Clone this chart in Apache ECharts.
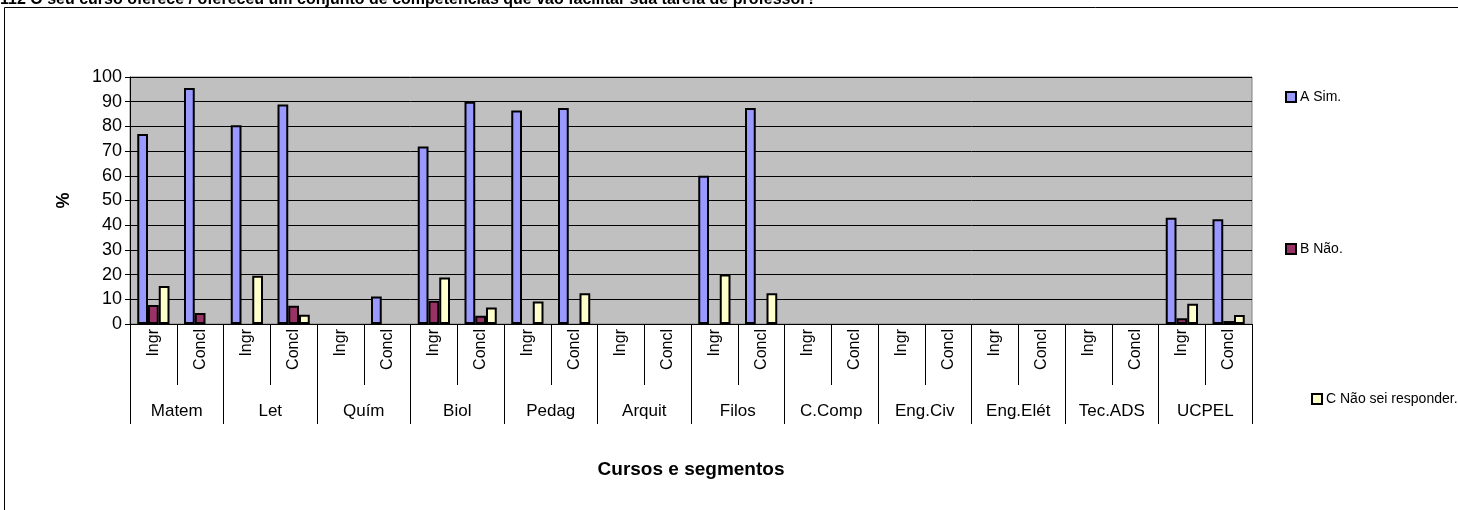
<!DOCTYPE html>
<html>
<head>
<meta charset="utf-8">
<script src="https://cdn.jsdelivr.net/npm/echarts@6/dist/echarts.min.js"></script>
<style>
  html, body { margin: 0; padding: 0; background: #fff; }
  #chart { width: 1458px; height: 510px; }
</style>
</head>
<body>
<div id="chart"></div>
<script>
// segment labels (one per bar group) and course labels (two segments each)
var segments = ['Ingr', 'Concl', 'Ingr', 'Concl', 'Ingr', 'Concl', 'Ingr', 'Concl',
                'Ingr', 'Concl', 'Ingr', 'Concl', 'Ingr', 'Concl', 'Ingr', 'Concl',
                'Ingr', 'Concl', 'Ingr', 'Concl', 'Ingr', 'Concl', 'Ingr', 'Concl'];
var courses = ['Matem', 'Let', 'Quím', 'Biol', 'Pedag', 'Arquit', 'Filos',
               'C.Comp', 'Eng.Civ', 'Eng.Elét', 'Tec.ADS', 'UCPEL'];

// % per answer (null = no bar drawn)
var simValues = [76.9, 95.5, 80.5, 88.9, null, 11.1, 71.9, 90.0, 86.4, 87.5, null, null,
                 60.0, 87.5, null, null, null, null, null, null, null, null, 43.0, 42.4];
var naoValues = [7.7, 4.5, null, 7.4, null, null, 9.4, 3.3, null, null, null, null,
                 null, null, null, null, null, null, null, null, null, null, 2.3, 1.2];
var naoSeiValues = [15.4, null, 19.5, 3.7, null, null, 18.8, 6.7, 9.1, 12.5, null, null,
                    20.0, 12.5, null, null, null, null, null, null, null, null, 8.2, 3.6];

var yTicks = { min: 0, max: 100, interval: 10 };

var titleText = '112 O seu curso oferece / ofereceu um conjunto de competências que vão facilitar sua tarefa de professor?';

var chart = echarts.init(document.getElementById('chart'), null, { renderer: 'canvas' });

var font = 'Arial, "Liberation Sans", sans-serif';

function legendAt(name, left, top) {
    return {
        data: [name],
        left: left,
        top: top,
        padding: 0,
        orient: 'vertical',
        icon: 'rect',
        itemWidth: 10,
        itemHeight: 10,
        itemGap: 0,
        selectedMode: false,
        textStyle: { fontFamily: font, fontSize: 14, color: '#000', padding: [0, 0, 0, -1] }
    };
}

function barSeries(name, color, data) {
    return {
        name: name,
        type: 'bar',
        xAxisIndex: 0,
        yAxisIndex: 0,
        barGap: '0%',
        barCategoryGap: '31%',
        itemStyle: { color: color, borderColor: '#000', borderWidth: 2 },
        emphasis: { disabled: true },
        data: data
    };
}

var option = {
    animation: false,
    backgroundColor: '#fff',
    graphic: [
        {
            type: 'rect',
            shape: { x: 4.5, y: 7.5, width: 1500, height: 600 },
            style: { fill: 'none', stroke: '#000', lineWidth: 1 },
            silent: true
        },
        {
            type: 'text',
            left: 0,
            top: -8,
            style: { text: titleText, font: 'bold 16px ' + font, fill: '#000' },
            silent: true
        }
    ],
    legend: [
        legendAt('A Sim.', 1285, 90),
        legendAt('B Não.', 1285, 242),
        legendAt('C Não sei responder.', 1311, 392)
    ],
    grid: {
        left: 130,
        right: 206,
        top: 77,
        bottom: 186,
        show: true,
        backgroundColor: '#c0c0c0',
        borderColor: '#808080',
        borderWidth: 1
    },
    xAxis: [
        {
            type: 'category',
            data: segments,
            position: 'bottom',
            name: 'Cursos e segmentos',
            nameLocation: 'middle',
            nameGap: 136,
            nameTextStyle: { fontFamily: font, fontSize: 19, fontWeight: 'bold', color: '#000' },
            axisLine: { lineStyle: { color: '#000', width: 1 } },
            axisTick: { show: true, interval: 0, length: 61, lineStyle: { color: '#000' } },
            axisLabel: { interval: 0, rotate: 90, margin: 5, fontFamily: font, fontSize: 16, color: '#000' },
            splitLine: { show: false }
        },
        {
            type: 'category',
            data: courses,
            position: 'bottom',
            axisLine: { show: false },
            axisTick: { show: true, interval: 0, length: 100, lineStyle: { color: '#000' } },
            axisLabel: { interval: 0, margin: 79, fontFamily: font, fontSize: 17, color: '#000' },
            splitLine: { show: false }
        }
    ],
    yAxis: {
        type: 'value',
        min: yTicks.min,
        max: yTicks.max,
        interval: yTicks.interval,
        name: '%',
        nameLocation: 'middle',
        nameGap: 57,
        nameRotate: 90,
        nameTextStyle: { fontFamily: font, fontSize: 18, fontWeight: 'bold', color: '#000' },
        axisLine: { show: true, lineStyle: { color: '#000', width: 1 } },
        axisTick: { show: true, length: 5, lineStyle: { color: '#000' } },
        axisLabel: { margin: 8, fontFamily: font, fontSize: 18, color: '#000' },
        splitLine: { show: true, lineStyle: { color: '#000', width: 1 } }
    },
    series: [
        barSeries('A Sim.', '#9999ff', simValues),
        barSeries('B Não.', '#993366', naoValues),
        barSeries('C Não sei responder.', '#ffffcc', naoSeiValues)
    ]
};

chart.setOption(option);
</script>
</body>
</html>
